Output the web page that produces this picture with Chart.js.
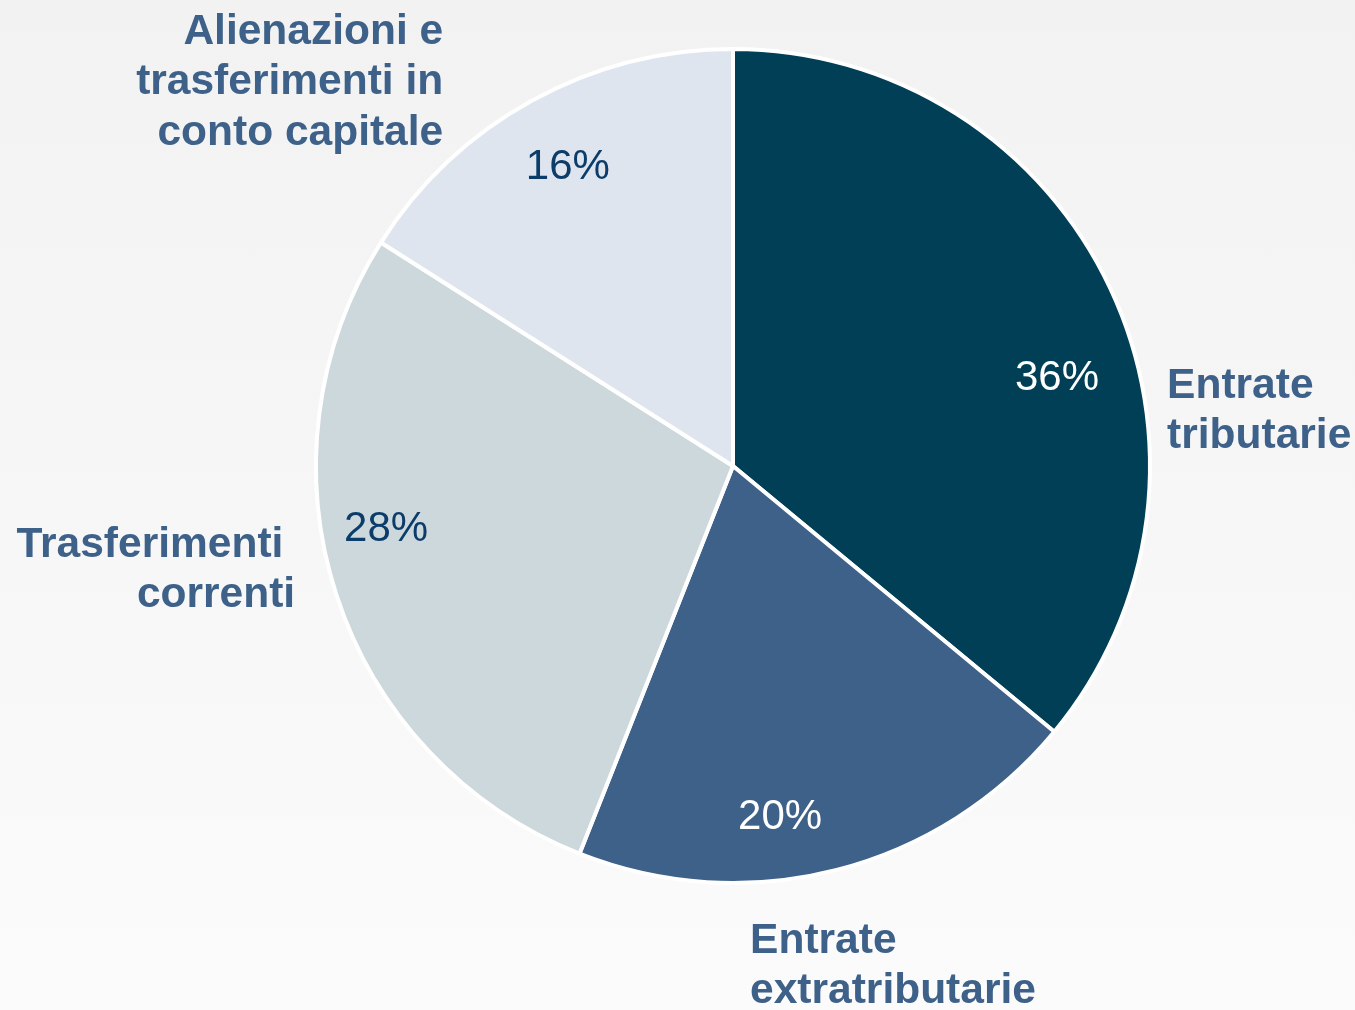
<!DOCTYPE html>
<html>
<head>
<meta charset="utf-8">
<script src="https://cdn.jsdelivr.net/npm/chart.js@4/dist/chart.umd.min.js"></script>
<style>
  html, body {
    margin: 0;
    padding: 0;
    width: 1355px;
    height: 1010px;
    overflow: hidden;
    background: linear-gradient(to bottom, #f2f2f2 0%, #fbfbfb 100%);
  }
  canvas { display: block; }
</style>
</head>
<body>
<canvas id="pieChart" width="1355" height="1010"></canvas>
<script>
// Chart data
const categories = [
  ['Entrate', 'tributarie'],
  ['Entrate', 'extratributarie'],
  ['Trasferimenti ', 'correnti'],
  ['Alienazioni e', 'trasferimenti in', 'conto capitale']
];
const shares = [36, 20, 28, 16];

// Styles
const sliceColors = ['#013f57', '#3e6189', '#cdd8dc', '#dfe5ef'];
const pctColors = ['#ffffff', '#ffffff', '#0b3c6a', '#0b3c6a'];
const labelColor = '#3e6189';

// Label placement, in units of the pie radius from its centre
const pctOffsets = [[0.777, -0.211], [0.113, 0.842], [-0.832, 0.153], [-0.396, -0.717]];
const labelOffsets = [[1.041, -0.192], [0.041, 1.139], [-1.050, 0.189], [-0.695, -1.041]];
const labelAlign = ['left', 'left', 'right', 'right'];

// Plugin drawing the percentage and category labels
const pieLabels = {
  id: 'pieLabels',
  afterDatasetsDraw(chart) {
    const ctx = chart.ctx;
    const arcs = chart.getDatasetMeta(0).data;
    const values = chart.data.datasets[0].data;
    const total = values.reduce((acc, curr) => acc + curr, 0);
    ctx.save();
    ctx.textBaseline = 'middle';
    arcs.forEach((arc, i) => {
      const r = 417;
      // percentage inside the slice
      ctx.font = '42px "Liberation Sans", Arial, sans-serif';
      ctx.fillStyle = pctColors[i];
      ctx.textAlign = 'center';
      const pct = Math.round(values[i] / total * 100) + '%';
      ctx.fillText(pct, arc.x + pctOffsets[i][0] * r, arc.y + pctOffsets[i][1] * r);
      // category name outside
      ctx.font = 'bold 42.5px "Liberation Sans", Arial, sans-serif';
      ctx.fillStyle = labelColor;
      ctx.textAlign = labelAlign[i];
      const lx = arc.x + labelOffsets[i][0] * r;
      const ly = arc.y + labelOffsets[i][1] * r;
      chart.data.labels[i].forEach((line, k) => {
        ctx.fillText(line, lx, ly + k * 50.5);
      });
    });
    ctx.restore();
  }
};

function renderPieChart() {
  const ctx = document.getElementById('pieChart');
  if (!ctx) return;

  new Chart(ctx, {
    type: 'pie',
    data: {
      labels: categories,
      datasets: [{
        data: shares,
        backgroundColor: sliceColors,
        borderColor: '#ffffff',
        borderWidth: 4
      }]
    },
    options: {
      responsive: false,
      animation: false,
      layout: {
        padding: { top: 47, bottom: 125, left: 314, right: 203 }
      },
      plugins: {
        legend: { display: false },
        tooltip: { enabled: false }
      }
    },
    plugins: [pieLabels]
  });
}

renderPieChart();
</script>
</body>
</html>
